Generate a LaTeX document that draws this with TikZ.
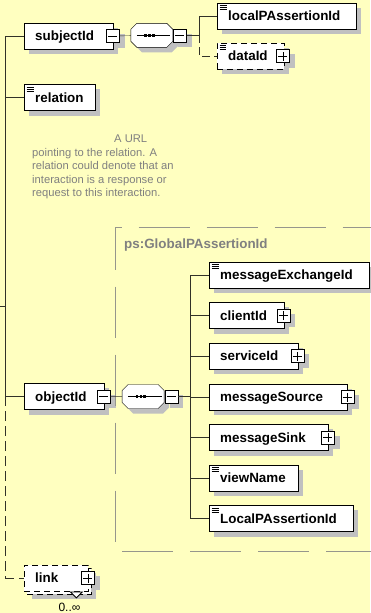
\documentclass[tikz,border=0pt]{standalone}
\usepackage{fontspec}
\setmainfont{Liberation Sans}
\usetikzlibrary{positioning}

\definecolor{paperyellow}{RGB}{255,255,192}
\definecolor{shadegray}{RGB}{192,192,192}
\definecolor{wiregray}{RGB}{50,50,40}
\definecolor{framegray}{RGB}{150,150,140}
\definecolor{notegray}{RGB}{128,128,128}

\pgfdeclarelayer{paper}
\pgfdeclarelayer{shade}
\pgfsetlayers{paper,shade,main}

\tikzset{every picture/.style={line width=1pt}}
\tikzset{
  elem/.style={rectangle, draw=black, fill=white, anchor=west,
    minimum height=26, inner xsep=11, inner ysep=0, text width=#1, align=left,
    text height=9.6, text depth=0, font=\fontsize{13.4}{16}\selectfont\bfseries},
  optional/.style={dash pattern=on 6pt off 4pt},
  doc/.style={path picture={
    \foreach \k in {2.5,4.5,6.5}
      \draw[line width=0.8] (path picture bounding box.north west) ++(2.5,-\k) -- ++(7,0);}},
  btn/.style={rectangle, draw=black, fill=white, minimum size=13, inner sep=0},
  btnminus/.style={btn, path picture={
    \draw (path picture bounding box.center) ++(-4.5,0) -- ++(9,0);}},
  btnplus/.style={btn, path picture={
    \draw (path picture bounding box.center) ++(-4.5,0) -- ++(9,0);
    \draw (path picture bounding box.center) ++(0,-4.5) -- ++(0,9);}},
  seqbox/.style={rectangle, minimum width=42, minimum height=24, inner sep=0},
  octagon/.style={draw=black, fill=white},
  wire/.style={draw=wiregray},
  frameline/.style={draw=framegray, dash pattern=on 51pt off 17pt},
  noteText/.style={text=notegray, inner sep=0, align=left,
    font=\fontsize{11.2}{13.5}\selectfont},
}

\begin{document}
\begin{tikzpicture}[x=1pt,y=1pt,yscale=-1,xscale=1]
	\useasboundingbox (0,0) rectangle (370,613);
	\begin{pgfonlayer}{paper}
		\fill[paperyellow] (0,0) rectangle (370,613);
	\end{pgfonlayer}

	%Dashed frame of the complex type
	\coordinate (frameNW) at (115,227);
	\coordinate (frameSW) at (115,551);
	\draw[frameline, dash phase=44.3] (frameNW) -- ++(260,0);
	\draw[frameline, dash phase=8.3] (frameNW) -- (frameSW);
	\draw[frameline, dash phase=61] (frameSW) -- ++(260,0);
	% Text Node
	\node[anchor=base west, inner sep=0, text=notegray, font=\fontsize{13.4}{16}\selectfont\bfseries] (typeName) at (124,248) {ps:GlobalPAssertionId};

	%Shape: sequence compositors
	\node[seqbox] (seqA) at (152,35.3) {};
	\node[seqbox] (seqB) at (143.3,396.5) {};
	\foreach \s in {seqA,seqB} {
		\begin{pgfonlayer}{shade}
			\fill[shadegray] ([shift={(5,5)}]\s.west) ++(0,-6) -- ++(0,12) -- ++(6,6) -- ++(30,0) -- ++(6,-6) -- ++(0,-12) -- ++(-6,-6) -- ++(-30,0) -- cycle;
		\end{pgfonlayer}
		\draw[octagon] (\s.west) ++(0,-6) -- ++(0,12) -- ++(6,6) -- ++(30,0) -- ++(6,-6) -- ++(0,-12) -- ++(-6,-6) -- ++(-30,0) -- cycle;
		\draw (\s.west) ++(6,0) -- ++(33.4,0);
		\foreach \d in {-7.6,-3.8,0}
			\fill (\s.center) ++(\d,-1.4) rectangle ++(2.7,2.8);
	}
	\node[btnminus, anchor=west] (seqABtn) at (seqA.east) {};
	\node[btnminus, anchor=west] (seqBBtn) at (seqB.east) {};

	%Shape: subjectId branch
	\node[elem=67pt] (subj) at (24,36) {subjectId};
	\node[btnminus] (subjBtn) at ([xshift=-0.5]subj.east) {};
	\node[elem=117pt, doc] (localId) at (217,16) {localPAssertionId};
	\node[elem=45pt, doc, optional] (dataId) at (217,56) {dataId};
	\node[btnplus] (dataBtn) at ([xshift=-1.5]dataId.east) {};

	%Shape: relation
	\node[elem=49pt, doc] (relation) at (24,97.5) {relation};
	% Text Node
	\node[noteText, anchor=north west] (relNote) at (32,135) {\hspace*{82pt}A URL\\pointing to the relation. A\\relation could denote that an\\interaction is a response or\\request to this interaction.};

	%Shape: objectId branch
	\node[elem=58pt] (objId) at (24,396.3) {objectId};
	\node[btnminus] (objBtn) at ([xshift=-0.5]objId.east) {};
	\node[elem=138pt, doc] (msgEx) at (209,275) {messageExchangeId};
	\node[elem=53pt] (client) at (209,315.5) {clientId};
	\node[btnplus] (clientBtn) at ([xshift=-1]client.east) {};
	\node[elem=67pt] (service) at (209,356) {serviceId};
	\node[btnplus] (serviceBtn) at ([xshift=-1]service.east) {};
	\node[elem=116pt] (msgSrc) at (209,397) {messageSource};
	\node[btnplus] (msgSrcBtn) at (msgSrc.east) {};
	\node[elem=97pt] (msgSink) at (209,437.5) {messageSink};
	\node[btnplus] (msgSinkBtn) at ([xshift=-0.5]msgSink.east) {};
	\node[elem=67pt, doc] (viewName) at (209,478) {viewName};
	\node[elem=122pt, doc] (localId2) at (209,518.5) {LocalPAssertionId};

	%Shape: link, repeated
	\node[elem=42pt, optional] (linkStack) at (27,581) {};
	\node[elem=42pt, optional] (link) at (24,578) {link};
	\node[btnplus] (linkBtn) at ([xshift=-0.5]link.east) {};
	\draw[fill=white, line width=0.8] ([xshift=-18,yshift=0.7]link.south east) -- ++(12,0) -- ++(-6,6) -- cycle;
	% Text Node
	\node[anchor=base, inner sep=0, font=\fontsize{12}{14}\selectfont] (linkMult) at (69.5,611.5) {0..∞};

	%Shadows under boxes and buttons
	\begin{pgfonlayer}{shade}
		\foreach \n in {subj,localId,dataId,relation,objId,msgEx,client,service,msgSrc,msgSink,viewName,localId2,linkStack,
			subjBtn,seqABtn,dataBtn,objBtn,seqBBtn,clientBtn,serviceBtn,msgSrcBtn,msgSinkBtn,linkBtn}
			\fill[shadegray] ([shift={(5,5)}]\n.north west) rectangle ([shift={(5,5)}]\n.south east);
	\end{pgfonlayer}

	%Straight Lines: main spine
	\coordinate (root) at (0,305.7);
	\coordinate (spine) at (5.5,0);
	\coordinate (brA) at (199,0);
	\coordinate (brB) at (190,0);
	\draw[wire] (root) -- (root -| spine);
	\draw[wire] (subj.west) -- (subj.west -| spine) -- (objId.west -| spine) -- (objId.west);
	\draw[wire] (relation.west) -- (relation.west -| spine);
	\draw[wire, dash pattern=on 10pt off 5pt] (objId.west -| spine) |- (link.west);

	%Straight Lines: subjectId sequence
	\draw[wire] (subjBtn) -- (seqA);
	\draw[wire] (seqABtn.east) -- (seqABtn.east -| brA) -- (localId.west -| brA) -- (localId.west);
	\draw[wire, dash pattern=on 8pt off 4pt] (seqABtn.east -| brA) |- (dataId.west);

	%Straight Lines: objectId sequence
	\draw[wire] (objBtn) -- (seqB);
	\draw[wire] (seqBBtn.east) -- (seqBBtn.east -| brB);
	\draw[wire] (msgEx.west -| brB) -- (localId2.west -| brB);
	\foreach \c in {msgEx,client,service,msgSrc,msgSink,viewName,localId2}
		\draw[wire] (\c.west) -- (\c.west -| brB);

\end{tikzpicture}
\end{document}
